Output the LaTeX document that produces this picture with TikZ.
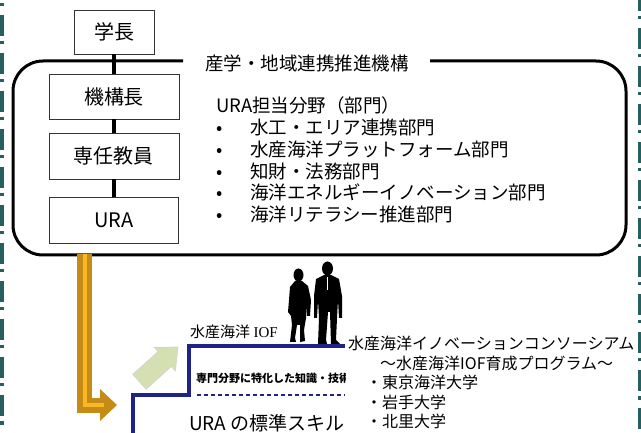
\documentclass[tikz,border=0pt]{standalone}
\usepackage{fontspec}
\setmainfont{Noto Sans CJK JP}
\newfontfamily\iofserif{Liberation Serif}

\definecolor{edgeteal}{RGB}{38,95,95}
\definecolor{stepnavy}{RGB}{30,35,135}
\definecolor{golddark}{RGB}{196,139,22}
\definecolor{goldlight}{RGB}{250,184,36}
\definecolor{leafgreen}{RGB}{212,224,178}

\begin{document}
\begin{tikzpicture}[
    x=1pt, y=-1pt,
    orgbox/.style={draw=black!80, line width=0.9pt, fill=white, inner sep=0pt,
        font=\fontsize{20}{22}\selectfont},
    orgline/.style={line width=3.5pt},
    frame/.style={line width=3pt, rounded corners=30pt},
    listtext/.style={anchor=west, inner sep=0pt, font=\fontsize{18.5}{20}\selectfont},
    sidetext/.style={anchor=west, inner sep=0pt, font=\fontsize{16}{18}\selectfont},
    edgeline/.style={edgeteal, dash pattern=on 21pt off 5pt on 3.5pt off 8.5pt},
    goldline/.style={draw=golddark, double=goldlight, double distance=4pt, line width=5.5pt},
    stepline/.style={draw=stepnavy, line width=4.5pt}
]
    \useasboundingbox (0,0) rectangle (641,433);

    % --- Page edges ---
    \draw[edgeline, line width=4pt] (2,-23) -- (2,440);
    \draw[edgeline, line width=3.5pt] (639.5,-10) -- (639.5,440);

    % --- Organisation chart ---
    \draw[frame] (183,61) -- (13,61) -- (13,255) -- (626,255) -- (626,61) -- (430,61);
    \node (title) at (307,63) {\fontsize{18.5}{20}\selectfont 産学・地域連携推進機構};

    \node[orgbox, minimum width=80pt, minimum height=44pt] (gakucho) at (114,32) {学長};
    \node[orgbox, minimum width=130pt, minimum height=45pt] (kikocho) at (114,96.5) {機構長};
    \node[orgbox, minimum width=130pt, minimum height=46pt] (sennin) at (114,156) {専任教員};
    \node[orgbox, minimum width=129pt, minimum height=46pt] (ura) at (114,220) {URA};

    \draw[orgline] (gakucho.south) -- (kikocho.north);
    \draw[orgline] (kikocho.south) -- (sennin.north);
    \draw[orgline] (sennin.south) -- (ura.north);

    % URA fields
    \node[listtext] (fields) at (216,105) {URA担当分野（部門）};
    \node[listtext] (field1) at (213,127) {\makebox[37pt][l]{\hspace{3pt}•}水工・エリア連携部門};
    \node[listtext] (field2) at (213,149) {\makebox[37pt][l]{\hspace{3pt}•}水産海洋プラットフォーム部門};
    \node[listtext] (field3) at (213,171) {\makebox[37pt][l]{\hspace{3pt}•}知財・法務部門};
    \node[listtext] (field4) at (213,192) {\makebox[37pt][l]{\hspace{3pt}•}海洋エネルギーイノベーション部門};
    \node[listtext] (field5) at (213,214) {\makebox[37pt][l]{\hspace{3pt}•}海洋リテラシー推進部門};

    % --- Bent arrow down to the skills ---
    \coordinate (goldstart) at (84.5,254);
    \coordinate (goldend) at (104,405);
    \fill[golddark] (100,389) -- (117,405) -- (100,421) -- cycle;
    \draw[goldline] (goldstart) |- (goldend);

    % --- Skill steps ---
    \draw[stepline] (133,436) -- (133,395) -- (189,395) -- (189,346) -- (345,346);
    \draw[stepnavy, line width=2.2pt, dash pattern=on 4pt off 3pt] (197,395) -- (345,395);

    \node[anchor=west, inner sep=0pt, font=\fontsize{15}{17}\selectfont] (iof) at (190,332) {水産海洋 {\iofserif IOF}};
    \begin{scope}
        \clip (190,365) rectangle (345,390);
        \node[anchor=west, inner sep=0pt, font=\fontsize{11}{12}\selectfont\bfseries] (special) at (196,378) {専門分野に特化した知識・技術};
    \end{scope}
    \node[anchor=west, inner sep=0pt, font=\fontsize{19}{21}\selectfont] (standard) at (189,423) {URA の標準スキル};

    % step-up arrow
    \begin{scope}[shift={(139.4,381.8)}, rotate=42]
        \filldraw[fill=leafgreen, draw=gray!35, line width=0.6pt]
            (0,-10) -- (34,-10) -- (34,-16) -- (52,0) -- (34,16) -- (34,10) -- (0,10) -- cycle;
    \end{scope}

    % woman
    \fill[black] (298.5,275) ellipse (5 and 6.5);
    \fill[black] (295,281) -- (302,281) -- (308,286) -- (311,300) -- (310,316) -- (307,316)
        -- (306,302) -- (306,318) -- (304,330) -- (305,341) -- (300,342) -- (300,325)
        -- (297,325) -- (295,338) -- (296,342) -- (290,342) -- (292,325) -- (291,316)
        -- (288,312) -- (289,300) -- (290,287) -- cycle;
    % man
    \fill[black] (327.5,268.5) ellipse (5.5 and 7);
    \fill[black] (324,275) -- (331,275) -- (339,279) -- (342,296) -- (342,318) -- (339,318)
        -- (338,300) -- (337,318) -- (336,340) -- (340,344) -- (331,344) -- (330,312)
        -- (328,312) -- (326,340) -- (327,344) -- (318,344) -- (319,318) -- (318,300)
        -- (317,318) -- (314,318) -- (314,296) -- (316,279) -- cycle;
    \draw[white, line width=0.6pt] (327.5,277) -- (327.5,290);

    % --- Consortium ---
    \node[sidetext] (consortium) at (348,343) {水産海洋イノベーションコンソーシアム};
    \node[sidetext] (program) at (380,363) {～水産海洋IOF育成プログラム～};
    \node[sidetext] (univ1) at (366,382) {・東京海洋大学};
    \node[sidetext] (univ2) at (366,402) {・岩手大学};
    \node[sidetext] (univ3) at (366,421) {・北里大学};

\end{tikzpicture}
\end{document}
